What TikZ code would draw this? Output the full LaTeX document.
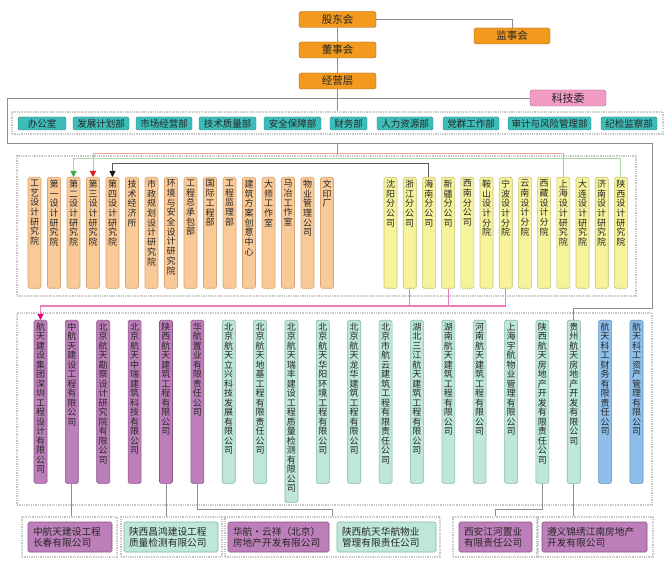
\documentclass[tikz,border=0pt]{standalone}
\usepackage{fontspec}
\setmainfont{Noto Sans CJK SC}
\usetikzlibrary{arrows.meta}
\makeatletter
\def\vt@a#1{\ifx\relax#1\else\hbox to 13pt{\hss#1\hss}\expandafter\vt@a\fi}
\newcommand\vtext[3]{\edef\vt@tmp{#1}\vbox to #2pt{\baselineskip=#3pt\lineskiplimit=-\maxdimen\lineskip=0pt\vskip 2.5pt\relax\expandafter\vt@a\vt@tmp\relax\vss}}
\makeatother
\definecolor{org}{HTML}{F39A1E}
\definecolor{orgd}{HTML}{9A5E14}
\definecolor{pinkk}{HTML}{F29BC4}
\definecolor{pinkd}{HTML}{9A6A80}
\definecolor{teal1}{HTML}{3DBCB8}
\definecolor{teald}{HTML}{2B8785}
\definecolor{peach}{HTML}{F9CA98}
\definecolor{peachd}{HTML}{D9A570}
\definecolor{yel}{HTML}{F7F39C}
\definecolor{yeld}{HTML}{C8C472}
\definecolor{pur}{HTML}{BD7FB9}
\definecolor{purd}{HTML}{8C5289}
\definecolor{mint}{HTML}{BEE6DA}
\definecolor{mintd}{HTML}{84B9A9}
\definecolor{blu}{HTML}{8EBFEA}
\definecolor{blud}{HTML}{5B8FC0}
\definecolor{lin}{HTML}{8C8C8C}
\definecolor{redl}{HTML}{E8A3A3}
\definecolor{redt}{HTML}{E3191E}
\definecolor{greenl}{HTML}{A9D9A0}
\definecolor{greent}{HTML}{2DB34A}
\definecolor{blackl}{HTML}{5A5A5A}
\definecolor{blackt}{HTML}{111111}
\definecolor{pinkl}{HTML}{EA7EBA}
\definecolor{pinkt}{HTML}{E4007F}
\begin{document}
\begin{tikzpicture}[x=1pt,y=-1pt,
  conn/.style={draw=lin, line width=0.9pt},
  topbox/.style={draw=orgd, fill=org, rounded corners=2.5pt, minimum width=77pt, minimum height=16pt, inner sep=0pt, font=\fontsize{10.5}{12}\selectfont, text=black!85},
  deptbox/.style={draw=teald, fill=teal1, rounded corners=1.5pt, minimum height=13pt, inner sep=0pt, font=\fontsize{9.5}{11}\selectfont, text=black!85},
  vbx/.style={rounded corners=1.5pt, inner sep=0pt, anchor=north, minimum width=13pt, font=\fontsize{9}{10}\selectfont, text=black!85, line width=0.6pt},
  frm/.style={draw=gray!45, densely dotted, line width=1.3pt, inner sep=0pt},
  bbx/.style={rounded corners=1.5pt, inner xsep=5pt, inner ysep=0pt, minimum height=30pt, align=left, font=\fontsize{9.7}{11}\selectfont, text=black!85, line width=0.6pt},
  arr/.style={line width=0.9pt, -{Triangle[width=6pt,length=6pt,color=#1]}},
]
\useasboundingbox (0,0) rectangle (670,564);
\fill[white] (0,0) rectangle (670,564);
% helper coordinates
\coordinate (c153) at (0,153);
\coordinate (c158) at (0,158);
\coordinate (c163) at (0,163);
\coordinate (c306) at (0,306);
\coordinate (c509) at (0,509);
\coordinate (lc) at (7,143);
\coordinate (rc) at (652,308);
\coordinate (v1) at (337.5,143);
% frames
\node[frm, minimum width=651pt, minimum height=22pt] (df) at (337.5,123) {};
\node[frm, minimum width=619pt, minimum height=140pt] (f2) at (326.5,226) {};
\node[frm, minimum width=635pt, minimum height=192pt] (f3) at (334.5,409) {};
\node[frm, minimum width=95pt, minimum height=40pt] (bf1) at (69.5,537) {};
\node[frm, minimum width=101pt, minimum height=40pt] (bf2) at (171.5,537) {};
\node[frm, minimum width=215pt, minimum height=40pt] (bf34) at (332.5,537) {};
\node[frm, minimum width=84pt, minimum height=40pt] (bf5) at (495,537) {};
\node[frm, minimum width=115pt, minimum height=40pt] (bf6) at (595.5,537) {};
% top boxes
\node[topbox] (gd) at (337.5,19.5) {股东会};
\node[topbox, minimum width=76pt] (js) at (512,36) {监事会};
\node[topbox] (ds) at (337.5,50) {董事会};
\node[topbox] (jy) at (337.5,81) {经营层};
\node[draw=pinkd, fill=pinkk, rounded corners=2.5pt, minimum width=76pt, minimum height=16pt, inner sep=0pt, font=\fontsize{11}{12}\selectfont, text=black!85] (kj) at (568,98) {科技委};
% departments
\foreach \t/\a/\b [count=\i] in {办公室/18/66, 发展计划部/73/129, 市场经营部/136/192, 技术质量部/199/256, 安全保障部/264/321, 财务部/330/367, 人力资源部/377/433, 党群工作部/443/499, 审计与风险管理部/508/591, 纪检监察部/601/657}
  \node[deptbox, minimum width={(\b-\a)*1pt}] (d\i) at ({(\a+\b)/2},123.5) {\t};
% section 2 boxes
\foreach \t [count=\i from 0] in {工艺设计研究院,第一设计研究院,第二设计研究院,第三设计研究院,第四设计研究院,技术经济所,市政规划设计研究院,环境与安全设计研究院,工程总承包部,国际工程部,工程监理部,建筑方案创意中心,大师工作室,马冶工作室,物业管理公司,文印厂}
  \node[vbx, fill=peach, draw=peachd] (o\i) at ({34.5+19.5*\i},177) {\vtext{\t}{111}{9.7}};
\foreach \t [count=\i from 0] in {沈阳分公司,浙江分公司,海南分公司,新疆分公司,西南分公司,鞍山设计分院,宁波设计分院,云南设计分院,西藏设计分院,上海设计研究院,大连设计研究院,济南设计研究院,陕西设计研究院}
  \node[vbx, fill=yel, draw=yeld] (y\i) at ({390.5+19.2*\i},177) {\vtext{\t}{111}{9.7}};
% section 3 boxes
\foreach \t/\c/\h [count=\i from 0] in {航天建设集团深圳工程设计有限公司/pur/163, 中航天建设工程有限公司/pur/163, 北京航天勘察设计研究院有限公司/pur/163, 北京航天中瑞建筑科技有限公司/pur/163, 陕西航天建筑工程有限公司/pur/163, 华航置业有限责任公司/pur/163, 北京航天立兴科技发展有限公司/mint/163, 北京航天地基工程有限责任公司/mint/163, 北京航天瑞丰建设工程质量检测有限公司/mint/182, 北京航天华阳环境工程有限公司/mint/163, 北京航天龙华建筑工程有限公司/mint/163, 北京市航云建筑工程有限责任公司/mint/163, 湖北三江航天建筑工程有限公司/mint/163, 湖南航天建筑工程有限公司/mint/163, 河南航天建筑工程有限公司/mint/163, 上海宇航物业管理有限公司/mint/163, 陕西航天房地产开发有限责任公司/mint/163, 贵州航天房地产开发有限公司/mint/163, 航天科工财务有限责任公司/blu/163, 航天科工资产管理有限公司/blu/163}
  \node[vbx, fill=\c, draw=\c d] (t\i) at ({40.5+31.37*\i},320) {\vtext{\t}{\h}{9.5}};
% bottom boxes
\node[bbx, fill=pur, draw=purd, text width=74pt] (b1) at (70,537) {中航天建设工程\\长春有限公司};
\node[bbx, fill=mint, draw=mintd, text width=84pt] (b2) at (171,537) {陕西昌鸿建设工程\\质量检测有限公司};
\node[bbx, fill=pur, draw=purd, text width=91pt] (b3) at (278.5,537) {华航·云祥（北京）\\房地产开发有限公司};
\node[bbx, fill=mint, draw=mintd, text width=89pt] (b4) at (386.5,537) {陕西航天华航物业\\管理有限责任公司};
\node[bbx, fill=pur, draw=purd, text width=63pt] (b5) at (495.5,537) {西安江河置业\\有限责任公司};
\node[bbx, fill=pur, draw=purd, text width=95pt] (b6) at (594.5,537) {遵义锦绣江南房地产\\开发有限公司};
% connectors (top)
\begin{scope}[on background layer/.style={}]
\draw[conn] (gd.east) -| (js.north);
\draw[conn] (gd.south) -- (ds.north);
\draw[conn] (ds.south) -- (jy.north);
\draw[conn] (jy.south) -- (df.north);
\draw[conn] (v1) -- (v1 |- f2.north);
\draw[conn] (kj.west) -| (lc) -| (rc) -| (t17.north);
\end{scope}
% section 2 connectors
\draw[arr=redt, draw=redl] (y9.north) -- (y9.north |- c153) -| (o3.north);
\draw[arr=greent, draw=greenl] (y12.north) -- (y12.north |- c158) -| (o2.north);
\draw[arr=blackt, draw=blackl] (y2.north) -- (y2.north |- c163) -| (o4.north);
% pink connectors
\draw[arr=pinkt, draw=pinkl, line width=1.1pt] (y6.south) -- (y6.south |- c306) -| (t0.north);
\draw[draw=pinkl, line width=1.1pt] (y1.south) -- (y1.south |- c306);
\draw[draw=pinkl, line width=1.1pt] (y3.south) -- (y3.south |- c306);
% bottom connectors
\draw[conn] (t1.south) -- (t1.south |- bf1.north);
\draw[conn] (t4.south) -- (t4.south |- bf2.north);
\draw[conn] (t5.south) -- (t5.south |- c509) -| (bf34.north);
\draw[conn] (t16.south) -- (t16.south |- c509) -| (bf5.north);
\draw[conn] (t17.south) -- (t17.south |- bf6.north);
\end{tikzpicture}
\end{document}
